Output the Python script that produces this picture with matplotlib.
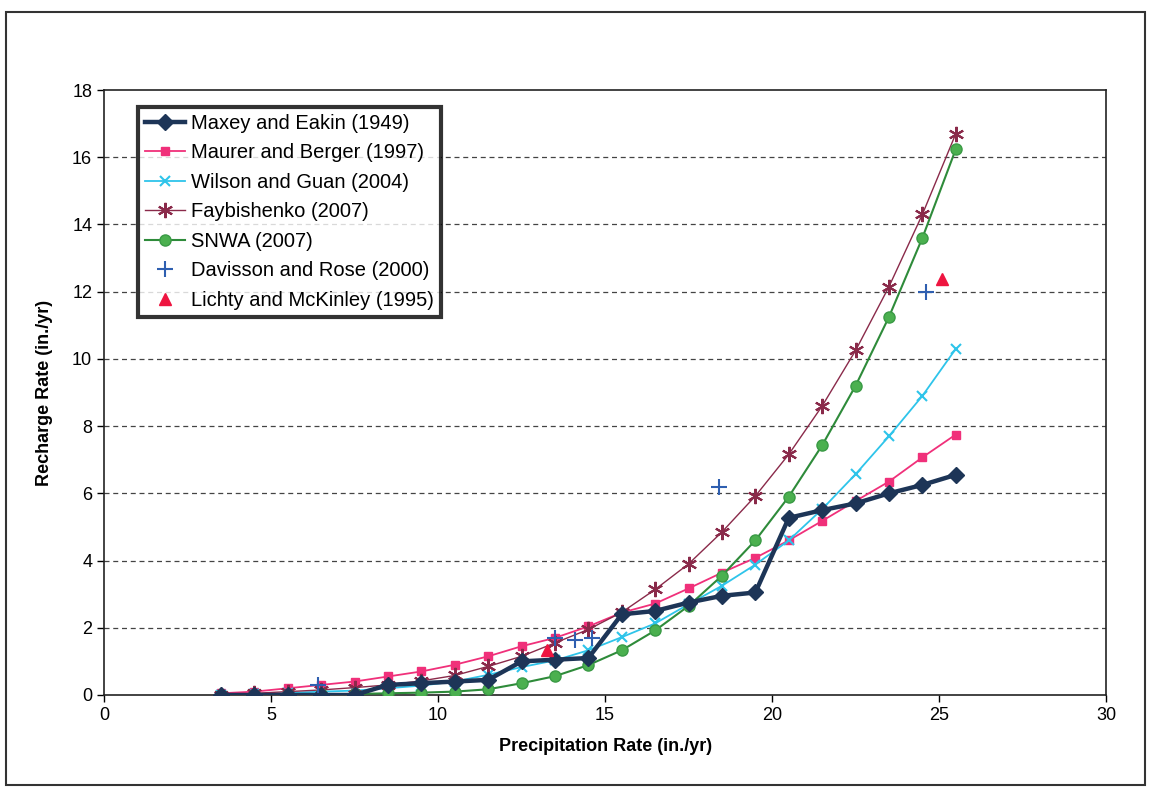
import numpy as np
import matplotlib
matplotlib.use("Agg")
import matplotlib.pyplot as plt
from matplotlib.patches import Rectangle

plt.rcParams['font.family'] = ['Liberation Sans', 'DejaVu Sans']

# precipitation rate (in./yr)
precip = [3.5, 4.5, 5.5, 6.5, 7.5, 8.5, 9.5, 10.5, 11.5, 12.5, 13.5, 14.5,
          15.5, 16.5, 17.5, 18.5, 19.5, 20.5, 21.5, 22.5, 23.5, 24.5, 25.5]

# recharge rate (in./yr)
maxey = [0.0, 0.0, 0.0, 0.0, 0.0, 0.3, 0.35, 0.4, 0.45, 1.0, 1.05, 1.1,
         2.4, 2.5, 2.75, 2.95, 3.05, 5.27, 5.5, 5.7, 6.0, 6.25, 6.55]
maurer = [0.05, 0.1, 0.2, 0.3, 0.4, 0.55, 0.7, 0.9, 1.15, 1.45, 1.7, 2.04,
          2.45, 2.72, 3.17, 3.64, 4.08, 4.6, 5.18, 5.77, 6.35, 7.07, 7.75]
wilson = [0.0, 0.03, 0.06, 0.1, 0.13, 0.2, 0.28, 0.4, 0.6, 0.83, 1.03, 1.33,
          1.72, 2.13, 2.7, 3.25, 3.88, 4.6, 5.53, 6.57, 7.7, 8.9, 10.3]
faybishenko = [0.0, 0.05, 0.1, 0.15, 0.22, 0.3, 0.42, 0.58, 0.85, 1.15, 1.55, 1.95,
               2.46, 3.14, 3.9, 4.85, 5.92, 7.16, 8.6, 10.25, 12.15, 14.3, 16.7]
snwa = [0.0, 0.0, 0.0, 0.02, 0.03, 0.05, 0.07, 0.1, 0.17, 0.35, 0.56, 0.89,
        1.33, 1.92, 2.65, 3.55, 4.6, 5.9, 7.43, 9.2, 11.25, 13.6, 16.24]

davisson_x = [6.4, 13.5, 14.1, 14.6, 18.4, 24.6]
davisson_y = [0.3, 1.7, 1.65, 1.7, 6.2, 12.0]

lichty_x = [13.25, 25.1]
lichty_y = [1.35, 12.37]

fig = plt.figure(figsize=(11.51, 7.93), dpi=100)
ax = fig.add_axes([0.0904, 0.1236, 0.8706, 0.7629])

ax.plot(precip, maxey, color='#1d3557', lw=3.2, marker='D', ms=8,
        mfc='#1d3557', mec='#1d3557', label='Maxey and Eakin (1949)', zorder=5)
ax.plot(precip, maurer, color='#f0307a', lw=1.3, marker='s', ms=6,
        mfc='#f0307a', mec='#f0307a', label='Maurer and Berger (1997)', zorder=4)
ax.plot(precip, wilson, color='#2ec4ea', lw=1.3, marker='x', ms=7, mew=1.5,
        label='Wilson and Guan (2004)', zorder=4)
ax.plot(precip, faybishenko, color='#8a2a4a', lw=1.0, marker=(6, 2, 0), ms=11,
        mew=1.5, label='Faybishenko (2007)', zorder=4)
ax.plot(precip, snwa, color='#2e8b3a', lw=1.5, marker='o', ms=8,
        mfc='#4bb04f', mec='#3a9a45', label='SNWA (2007)', zorder=4)
ax.plot(davisson_x, davisson_y, ls='none', marker='+', ms=11, mew=1.5,
        color='#2f5fb0', label='Davisson and Rose (2000)', zorder=6)
ax.plot(lichty_x, lichty_y, ls='none', marker='^', ms=9,
        color='#ee1540', label='Lichty and McKinley (1995)', zorder=6)

ax.set_xlim(0, 30)
ax.set_ylim(0, 18)
ax.set_xticks(np.arange(0, 31, 5))
ax.set_yticks(np.arange(0, 19, 2))
ax.tick_params(labelsize=13, direction='out', length=5, width=1)
for sp in ax.spines.values():
    sp.set_linewidth(1.2)
    sp.set_color('#222222')

for yv in range(2, 18, 2):
    ax.axhline(yv, color='#444444', ls=(0, (4, 3)), lw=0.9, zorder=1)

ax.set_xlabel('Precipitation Rate (in./yr)', fontsize=13, fontweight='bold', labelpad=10)
ax.set_ylabel('Recharge Rate (in./yr)', fontsize=13, fontweight='bold', labelpad=14)

leg = ax.legend(loc='upper left', bbox_to_anchor=(0.034, 0.972), borderaxespad=0,
                fontsize=14.5, frameon=True, fancybox=False, handlelength=2.0,
                handletextpad=0.3, labelspacing=0.52, borderpad=0.35)
leg.get_frame().set_edgecolor('black')
leg.get_frame().set_linewidth(3)

fig.patches.append(Rectangle((0.005, 0.01), 0.99, 0.975, transform=fig.transFigure,
                             fill=False, edgecolor='#333333', lw=1.5))

fig.savefig('out.png', dpi=100)
